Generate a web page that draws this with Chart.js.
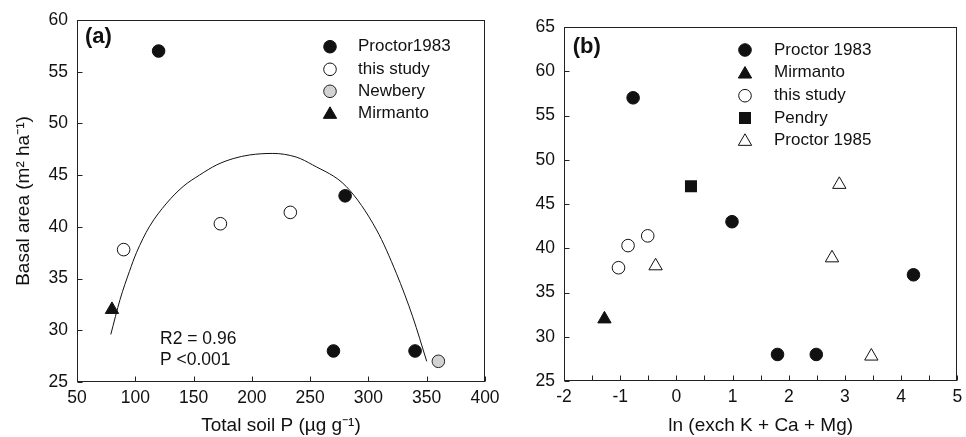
<!DOCTYPE html>
<html><head><meta charset="utf-8">
<script src="https://cdn.jsdelivr.net/npm/chart.js@4.4.1/dist/chart.umd.min.js"></script>
<style>
html,body{margin:0;padding:0;background:#fff;overflow:hidden;width:966px;height:437px;}
#ca{position:absolute;left:0;top:0;}
#cb{position:absolute;left:480px;top:0;}
</style></head><body>
<canvas id="ca" width="510" height="437"></canvas>
<canvas id="cb" width="486" height="437"></canvas>
<script>
// ---------- Panel (a): basal area vs total soil P ----------
const xTicksA = [50, 100, 150, 200, 250, 300, 350, 400];
const yTicksA = [25, 30, 35, 40, 45, 50, 55, 60];
const proctor1983A_P  = [120, 280, 270, 340];
const proctor1983A_BA = [57, 43, 28, 28];
const thisStudyA_P  = [90, 173, 233];
const thisStudyA_BA = [37.8, 40.3, 41.4];
const newberyA_P  = [360];
const newberyA_BA = [27];
const mirmantoA_P  = [80];
const mirmantoA_BA = [32];
const fitCurveA_P  = [79, 87, 95, 101, 112, 127, 141, 155, 170, 184, 198, 218, 238, 252, 281, 307, 324, 338, 350];
const fitCurveA_BA = [29.6, 33.0, 35.7, 37.5, 40.0, 42.3, 43.9, 45.0, 46.0, 46.6, 46.95, 47.1, 46.75, 46.0, 43.9, 39.7, 35.5, 31.3, 27.0];

// ---------- Panel (b): basal area vs ln(exch K + Ca + Mg) ----------
const xTicksB = [-2, -1, 0, 1, 2, 3, 4, 5];
const yTicksB = [25, 30, 35, 40, 45, 50, 55, 60, 65];
const proctor1983B_ln = [-0.77, 0.99, 1.8, 2.49, 4.22];
const proctor1983B_BA = [57, 43, 28, 28, 37];
const mirmantoB_ln = [-1.28];
const mirmantoB_BA = [32];
const thisStudyB_ln = [-1.03, -0.86, -0.51];
const thisStudyB_BA = [37.8, 40.3, 41.4];
const pendryB_ln = [0.26];
const pendryB_BA = [47];
const proctor1985B_ln = [-0.37, 2.9, 2.77, 3.47];
const proctor1985B_BA = [38.0, 47.2, 38.9, 27.8];

const FONT = '"Liberation Sans", Arial, Helvetica, sans-serif';
const INK = '#111';

function pts(xs, ys) { return xs.map((x, i) => ({x: x, y: ys[i]})); }

function drawMarker(ctx, style, x, y, r, fill, stroke, bw) {
  ctx.save();
  ctx.beginPath();
  if (style === 'circle') { ctx.arc(x, y, r, 0, Math.PI * 2); }
  else if (style === 'triangle') {
    ctx.moveTo(x, y - r); ctx.lineTo(x + r * 0.866, y + r / 2); ctx.lineTo(x - r * 0.866, y + r / 2); ctx.closePath();
  } else if (style === 'rect') {
    const s = r * Math.SQRT1_2; ctx.rect(x - s, y - s, 2 * s, 2 * s);
  }
  ctx.fillStyle = fill; ctx.fill();
  if (bw > 0) { ctx.lineWidth = bw; ctx.strokeStyle = stroke; ctx.stroke(); }
  ctx.restore();
}

function ds(label, data, style, r, fill, stroke, bw) {
  return {label: label, data: data, pointStyle: style, pointRadius: r, pointHoverRadius: r,
    pointBackgroundColor: fill, pointBorderColor: stroke, pointBorderWidth: bw, showLine: false, legend: true};
}

function decoPlugin(cfg) {
  return {
    id: 'deco',
    afterDraw(chart) {
      const ctx = chart.ctx, a = chart.chartArea, xs = chart.scales.x, ys = chart.scales.y;
      ctx.save();
      ctx.strokeStyle = '#222'; ctx.lineWidth = 1;
      const L = Math.round(a.left) + 0.5, R = Math.round(a.right) - 0.5, T = Math.round(a.top) + 0.5, B = Math.round(a.bottom) - 0.5;
      ctx.strokeRect(L, T, R - L, B - T);
      ctx.beginPath();
      const tl = 5;
      xs.ticks.forEach(t => { const p = Math.round(xs.getPixelForValue(t.value)) + 0.5; ctx.moveTo(p, B); ctx.lineTo(p, B - tl); });
      if (cfg.minorX) {
        for (let i = 0; i < xs.ticks.length - 1; i++) {
          const v = (xs.ticks[i].value + xs.ticks[i + 1].value) / 2;
          const p = Math.round(xs.getPixelForValue(v)) + 0.5; ctx.moveTo(p, B); ctx.lineTo(p, B - tl);
        }
      }
      ys.ticks.forEach(t => { const p = Math.round(ys.getPixelForValue(t.value)) + 0.5; ctx.moveTo(L, p); ctx.lineTo(L + tl, p); });
      ctx.stroke();
      // legend
      ctx.font = '17px ' + FONT; ctx.fillStyle = INK; ctx.textBaseline = 'middle'; ctx.textAlign = 'left';
      const items = chart.data.datasets.filter(d => d.legend);
      items.forEach((d, i) => {
        const y = cfg.legendY[i];
        const dy = d.pointStyle === 'triangle' ? 1.5 : 0;
        drawMarker(ctx, d.pointStyle, cfg.legendMarkerX, y + dy, d.pointRadius, d.pointBackgroundColor, d.pointBorderColor, d.pointBorderWidth);
        ctx.fillStyle = INK;
        ctx.fillText(d.label, cfg.legendTextX, y);
      });
      // panel label
      ctx.font = 'bold 22px ' + FONT; ctx.textBaseline = 'middle';
      ctx.fillText(cfg.panel, cfg.panelX, cfg.panelY);
      // annotations
      ctx.font = '17.5px ' + FONT; ctx.textBaseline = 'alphabetic';
      (cfg.notes || []).forEach(n => ctx.fillText(n.text, n.x, n.y));
      ctx.restore();
    }
  };
}

function scaleOpts(min, max, ticks, width, height, title, titlePad) {
  return {
    x: {type: 'linear', min: min[0], max: max[0],
      afterBuildTicks: s => { s.ticks = ticks[0].map(v => ({value: v})); },
      afterFit: s => { s.height = height; s.paddingLeft = 0; s.paddingRight = 0; },
      grid: {display: false, drawTicks: false}, border: {display: false},
      ticks: {font: {family: FONT, size: 17.5}, color: INK, padding: 6, maxRotation: 0, autoSkip: false},
      title: {display: true, text: title[0], font: {family: FONT, size: 19}, color: INK, padding: {top: 0, bottom: 0}}
    },
    y: {type: 'linear', min: min[1], max: max[1],
      afterBuildTicks: s => { s.ticks = ticks[1].map(v => ({value: v})); },
      afterFit: s => { s.width = width; s.paddingTop = 0; s.paddingBottom = 0; },
      grid: {display: false, drawTicks: false}, border: {display: false},
      ticks: {font: {family: FONT, size: 17.5}, color: INK, padding: 9, autoSkip: false},
      title: {display: !!title[1], text: title[1] || '', font: {family: FONT, size: 19}, color: INK, padding: {top: titlePad, bottom: 0}}
    }
  };
}

const common = {responsive: false, animation: false, devicePixelRatio: 1,
  plugins: {legend: {display: false}, tooltip: {enabled: false}}};

new Chart(document.getElementById('ca'), {
  type: 'scatter',
  data: {datasets: [
    ds('Proctor1983', pts(proctor1983A_P, proctor1983A_BA), 'circle', 6.3, INK, INK, 1),
    ds('this study', pts(thisStudyA_P, thisStudyA_BA), 'circle', 6.3, '#fff', INK, 1),
    ds('Newbery', pts(newberyA_P, newberyA_BA), 'circle', 6.3, '#d2d2d2', '#222', 1),
    ds('Mirmanto', pts(mirmantoA_P, mirmantoA_BA), 'triangle', 7.7, INK, INK, 1),
    {label: 'fit', data: pts(fitCurveA_P, fitCurveA_BA), showLine: true, pointRadius: 0, borderColor: INK,
      borderWidth: 1, cubicInterpolationMode: 'monotone', fill: false, legend: false}
  ]},
  options: Object.assign({}, common, {
    layout: {padding: {left: 0, right: 25, top: 20, bottom: 0}},
    scales: scaleOpts([50, 25], [400, 60], [xTicksA, yTicksA], 77, 55,
      ['Total soil P (µg g⁻¹)', 'Basal area (m² ha⁻¹)'], 12)
  }),
  plugins: [decoPlugin({legendMarkerX: 330, legendTextX: 358, legendY: [46.7, 69.3, 91.3, 113],
    panel: '(a)', panelX: 85, panelY: 37,
    notes: [{text: 'R2 = 0.96', x: 160, y: 343.5}, {text: 'P <0.001', x: 160, y: 364.5}]})]
});

new Chart(document.getElementById('cb'), {
  type: 'scatter',
  data: {datasets: [
    ds('Proctor 1983', pts(proctor1983B_ln, proctor1983B_BA), 'circle', 6.3, INK, INK, 1),
    ds('Mirmanto', pts(mirmantoB_ln, mirmantoB_BA), 'triangle', 7.7, INK, INK, 1),
    ds('this study', pts(thisStudyB_ln, thisStudyB_BA), 'circle', 6.3, '#fff', INK, 1),
    ds('Pendry', pts(pendryB_ln, pendryB_BA), 'rect', 8.5, INK, INK, 0),
    ds('Proctor 1985', pts(proctor1985B_ln, proctor1985B_BA), 'triangle', 7.7, '#fff', INK, 1)
  ]},
  options: Object.assign({}, common, {
    layout: {padding: {left: 0, right: 3, top: 27, bottom: 0}},
    scales: scaleOpts([-2, 25], [5, 65], [xTicksB, yTicksB], 84, 56,
      ['ln (exch K + Ca + Mg)', null], 0)
  }),
  plugins: [decoPlugin({legendMarkerX: 265, legendTextX: 294, legendY: [50, 72.7, 95.7, 118, 140],
    minorX: true, panel: '(b)', panelX: 92.7, panelY: 47})]
});
</script>
</body></html>
